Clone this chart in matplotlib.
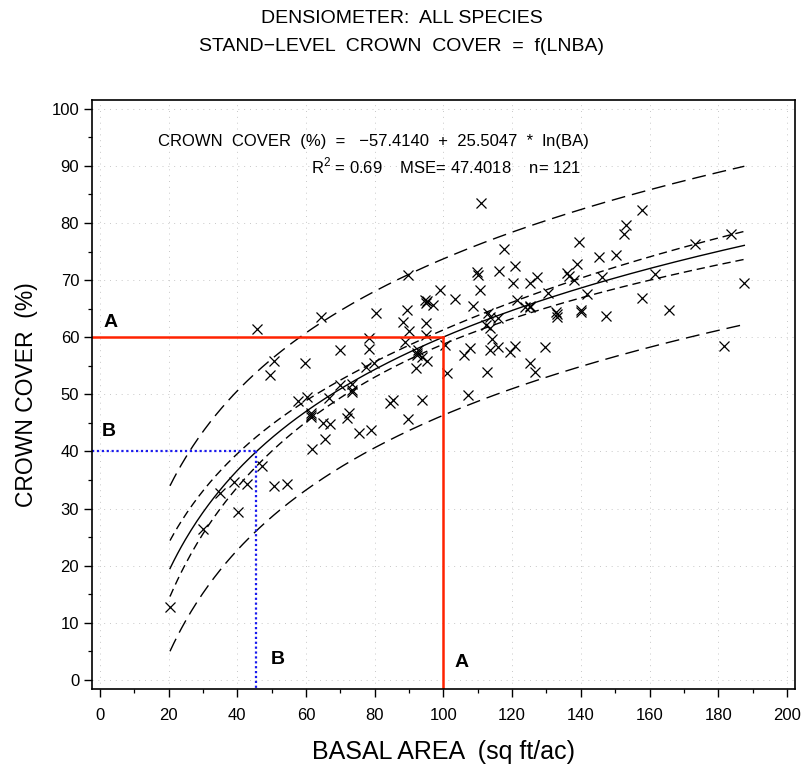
import numpy as np
import matplotlib
matplotlib.use("Agg")
import matplotlib.pyplot as plt

plt.rcParams['font.family'] = ['Liberation Sans Narrow', 'Liberation Sans', 'DejaVu Sans']
plt.rcParams['mathtext.fontset'] = 'custom'
plt.rcParams['mathtext.rm'] = 'Liberation Sans Narrow'

# observed plots: basal area (sq ft/ac) and crown cover (%)
basal_area = [
    20.4, 30.0, 35.0, 38.9, 42.8, 40.2, 47.1, 50.8, 54.6, 57.6,
    60.3, 61.7, 61.4, 61.6, 65.0, 67.0, 65.6, 66.8, 69.8, 71.9,
    72.4, 73.5, 73.4, 75.4, 79.0, 84.5, 85.4, 89.8, 93.7, 45.7,
    49.5, 50.7, 59.7, 64.5, 70.0, 77.5, 79.8, 78.2, 78.2, 80.4,
    88.1, 89.5, 89.6, 90.1, 88.8, 94.6, 95.1, 96.9, 94.9, 94.9,
    99.1, 92.7, 92.2, 93.7, 95.1, 92.0, 101.0, 110.9, 139.6, 117.5,
    109.9, 110.2, 116.2, 120.9, 138.9, 135.9, 136.7, 138.1, 120.2, 125.2,
    127.3, 110.7, 103.4, 108.6, 121.5, 130.5, 141.8, 123.8, 125.2, 113.1,
    113.6, 116.0, 132.9, 133.2, 140.0, 112.4, 113.6, 114.1, 100.5, 107.8,
    116.0, 120.9, 129.6, 157.9, 153.2, 152.6, 145.4, 150.3, 173.3, 183.8,
    187.6, 161.5, 146.1, 157.8, 165.6, 147.4, 105.9, 113.6, 119.5, 181.6,
    112.6, 125.1, 126.8, 107.3, 140.0, 133.0, 92.4, 61.5, 73.5, 94.8,
    125.2,
]
crown_cover = [
    12.8, 26.4, 32.8, 34.6, 34.3, 29.4, 37.5, 33.9, 34.3, 48.8,
    49.6, 40.4, 46.7, 46.0, 44.9, 44.8, 42.2, 49.3, 51.6, 45.8,
    46.7, 50.4, 51.8, 43.2, 43.7, 48.5, 49.0, 45.6, 49.0, 61.4,
    53.4, 55.9, 55.5, 63.6, 57.7, 54.8, 55.5, 59.8, 57.9, 64.3,
    62.7, 64.7, 70.9, 61.1, 59.2, 66.6, 66.3, 65.7, 62.5, 60.4,
    68.3, 57.8, 56.9, 56.6, 55.9, 54.6, 53.7, 83.5, 76.7, 75.4,
    71.5, 70.9, 71.6, 72.5, 72.8, 71.2, 70.8, 70.1, 69.5, 69.5,
    70.5, 68.3, 66.7, 65.5, 66.6, 67.7, 67.5, 65.3, 65.3, 64.2,
    63.6, 63.4, 64.5, 63.6, 64.5, 62.1, 61.6, 59.7, 58.7, 58.1,
    58.3, 58.5, 58.3, 82.3, 79.7, 78.1, 74.0, 74.4, 76.4, 78.0,
    69.5, 71.1, 70.6, 66.8, 64.7, 63.7, 56.9, 57.8, 57.5, 58.5,
    54.0, 55.5, 54.0, 49.9, 64.8, 64.0, 57.2, 46.3, 50.8, 66.0,
    65.5,
]

# regression results printed on the chart
b0 = -57.4140
b1 = 25.5047
mse = 47.4018
n_obs = 121
r2 = 0.69
t_crit = 1.98

# reading examples
a_cover = 60
b_cover = 40

x_ticks = list(range(0, 201, 20))
y_ticks = list(range(0, 101, 10))

ba = np.array(basal_area)
cc = np.array(crown_cover)
lnx = np.log(ba)
m = lnx.mean()
sxx = ((lnx - m) ** 2).sum()

xs = np.linspace(ba.min(), ba.max(), 300)
fit = b0 + b1 * np.log(xs)
se_mean = np.sqrt(mse * (1.0 / n_obs + (np.log(xs) - m) ** 2 / sxx))
se_pred = np.sqrt(mse * (1.0 + 1.0 / n_obs + (np.log(xs) - m) ** 2 / sxx))

a_ba = np.exp((a_cover - b0) / b1)
b_ba = np.exp((b_cover - b0) / b1)

fig = plt.figure(figsize=(8.04, 7.83), dpi=100)
ax = fig.add_axes([0.114, 0.120, 0.875, 0.752])
xlim = (-2.4, 202.4)
ylim = (-1.6, 101.5)
ax.set_xlim(*xlim)
ax.set_ylim(*ylim)

# faint dotted reference grid
for gx in x_ticks:
    ax.axvline(gx, color='#c8c8c8', lw=0.7, ls=(0, (1, 5)), zorder=0)
for gy in y_ticks:
    ax.axhline(gy, color='#c8c8c8', lw=0.7, ls=(0, (1, 5)), zorder=0)

ax.plot(xs, fit, color='black', lw=1.0)
ax.plot(xs, fit + t_crit * se_mean, color='black', lw=1.0, ls=(0, (6, 3.5)))
ax.plot(xs, fit - t_crit * se_mean, color='black', lw=1.0, ls=(0, (6, 3.5)))
ax.plot(xs, fit + t_crit * se_pred, color='black', lw=1.0, ls=(0, (10, 5)))
ax.plot(xs, fit - t_crit * se_pred, color='black', lw=1.0, ls=(0, (10, 5)))

ax.plot(ba, cc, ls='none', marker='x', ms=6.5, mew=0.9, color='black')

# example A (red) and B (blue)
red = '#ff2200'
blue = '#1a1aee'
ax.plot([xlim[0], a_ba], [a_cover, a_cover], color=red, lw=1.8)
ax.plot([a_ba, a_ba], [a_cover, ylim[0]], color=red, lw=1.8)
ax.plot([xlim[0], b_ba], [b_cover, b_cover], color=blue, lw=1.6, ls=(0, (1, 1.2)))
ax.plot([b_ba, b_ba], [b_cover, ylim[0]], color=blue, lw=1.6, ls=(0, (1, 1.2)))

lab = dict(fontsize=14, fontweight='bold', family=['Liberation Sans', 'DejaVu Sans'],
           ha='center', va='center')
ax.text(3.2, 62.6, 'A', **lab)
ax.text(2.6, 43.5, 'B', **lab)
ax.text(51.7, 3.5, 'B', **lab)
ax.text(105.4, 3.1, 'A', **lab)

ax.text(17.0, 94.2, 'CROWN  COVER  (%)  =   \u221257.4140  +  25.5047  *  ln(BA)',
        fontsize=12, ha='left', va='center')
ax.text(140.0, 90.0,
        'R$^{\\mathregular{2}}$ = 0.69    MSE= %.4f    n= %d' % (mse, n_obs),
        fontsize=12, ha='right', va='center')

ax.set_xticks(x_ticks)
ax.set_xticks(list(range(0, 201, 10)), minor=True)
ax.set_yticks(y_ticks)
ax.set_yticks(list(range(0, 101, 5)), minor=True)
ax.tick_params(which='major', direction='out', length=6, width=1.0, labelsize=12)
ax.tick_params(axis='x', which='major', pad=8)
ax.tick_params(axis='y', which='major', pad=3)
ax.tick_params(which='minor', direction='out', length=3, width=0.9)
for s in ax.spines.values():
    s.set_linewidth(1.2)

ax.set_xlabel('BASAL AREA  (sq ft/ac)', fontsize=18, labelpad=12)
ax.set_ylabel('CROWN COVER  (%)', fontsize=16.5, labelpad=10)

fig.text(0.5, 0.977, 'DENSIOMETER:  ALL SPECIES', fontsize=14, ha='center', va='center')
fig.text(0.5, 0.940, 'STAND\u2212LEVEL  CROWN  COVER  =  f(LNBA)', fontsize=14,
         ha='center', va='center')

fig.savefig('out.png', dpi=100)
